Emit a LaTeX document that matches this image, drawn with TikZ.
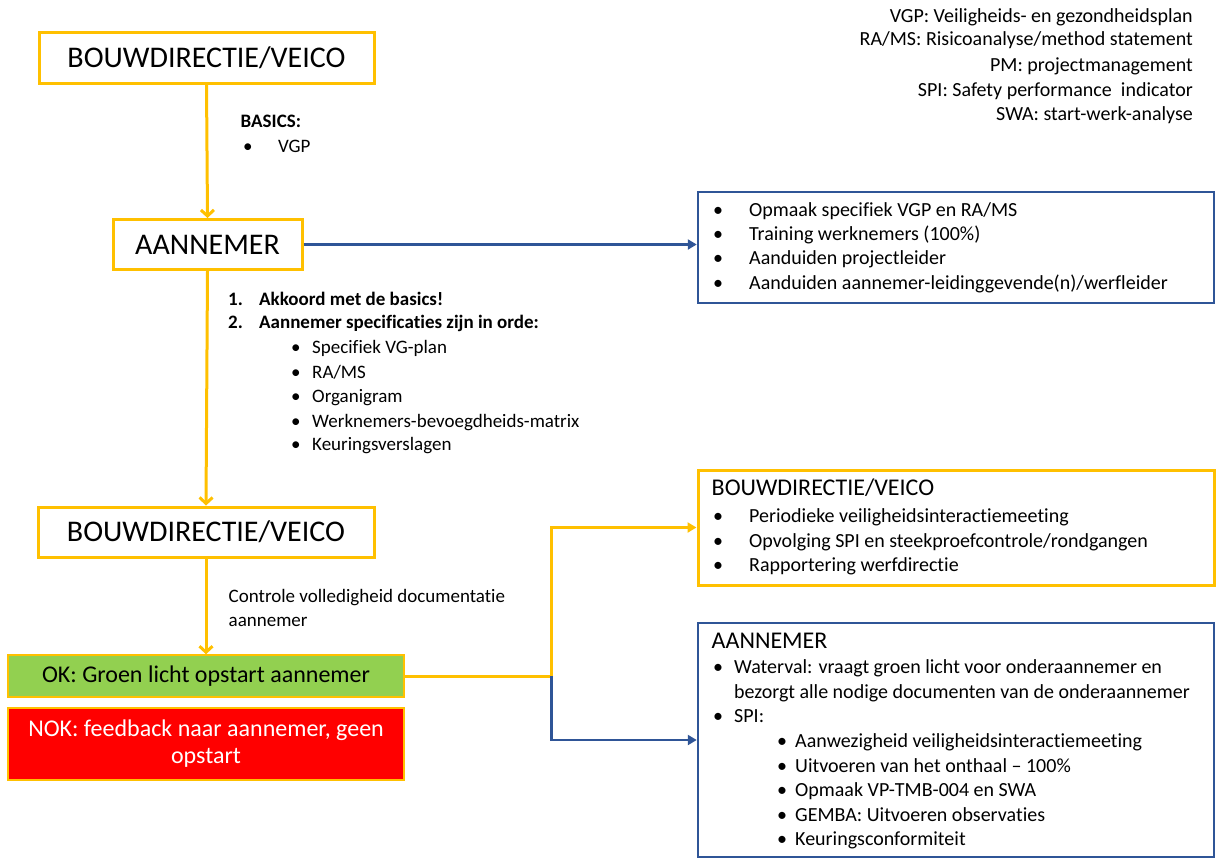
\documentclass[tikz,border=0pt]{standalone}
\usepackage{fontspec}
\setmainfont{Carlito}[Ligatures={NoCommon}]
\usetikzlibrary{arrows.meta}
\definecolor{ygold}{RGB}{255,192,0}
\definecolor{bblue}{RGB}{47,85,151}
\definecolor{okgreen}{RGB}{146,208,80}
\definecolor{nokred}{RGB}{255,0,0}
\newcommand\bul[2]{\makebox[#1][l]{\textbullet}#2}
\newcommand\fsbody{\fontsize{20}{24}\selectfont}
\tikzset{
  ybox/.style={draw=ygold, line width=3pt, minimum height=50pt, inner sep=0pt, font=\fontsize{30}{36}\selectfont},
  rbox/.style={line width=2.5pt, minimum width=516pt, inner sep=0pt},
  txt/.style={anchor=base west, inner sep=0pt, font=\fsbody},
  rtxt/.style={anchor=base east, inner sep=0pt, font=\fsbody},
  ttl/.style={anchor=base west, inner sep=0pt, font=\fontsize{24}{28}\selectfont},
  ydown/.style={draw=ygold, line width=3pt, -{Straight Barb[length=6pt,width=13pt]}},
  yright/.style={draw=ygold, line width=3pt, -{Triangle[length=9pt,width=10pt]}},
  bright/.style={draw=bblue, line width=2.5pt, -{Triangle[length=9pt,width=10pt]}}
}
\begin{document}
\begin{tikzpicture}[x=1pt,y=-1pt]
\useasboundingbox (0,0) rectangle (1217,859);
% left boxes
\node[ybox, minimum width=335pt] (b1) at (206.5,58) {BOUWDIRECTIE/VEICO};
\node[ybox, minimum width=189pt] (a1) at (207.5,244.5) {AANNEMER};
\node[ybox, minimum width=336pt] (b2) at (206,532) {BOUWDIRECTIE/VEICO};
\node[draw=ygold, line width=1.5pt, fill=okgreen, minimum width=396pt, minimum height=42pt, inner sep=0pt, font=\fontsize{24}{28}\selectfont] (ok) at (206,676) {OK: Groen licht opstart aannemer};
\node[draw=ygold, line width=2.5pt, fill=nokred, text=white, minimum width=396pt, minimum height=72pt, inner sep=0pt, align=center, font=\fontsize{24}{27}\selectfont] (nok) at (206,744) {NOK: feedback naar aannemer, geen\\opstart};
% right boxes
\node[rbox, draw=bblue, minimum height=111pt] (r1) at (956,247.5) {};
\node[rbox, draw=ygold, line width=3pt, minimum height=115pt] (r2) at (956,527.5) {};
\node[rbox, draw=bblue, minimum height=234pt] (r3) at (956,740) {};
% connectors
\draw[ydown] (b1.south) -- (a1.north);
\draw[ydown] (a1.south) -- (b2.north);
\draw[ydown] (b2.south) -- (ok.north);
\draw[bright] (a1.east) -- (a1.east -| r1.west);
\coordinate (j) at (551.5,676);
\draw[yright] (ok.east) -- (j) |- (r2.west);
\draw[bright] (j) |- (r3.west);
% legend
\node[rtxt] (lg1) at (1193,23) {VGP: Veiligheids- en gezondheidsplan};
\node[rtxt] (lg2) at (1193,46) {RA/MS: Risicoanalyse/method statement};
\node[rtxt] (lg3) at (1193,71) {PM: projectmanagement};
\node[rtxt] (lg4) at (1193,96) {SPI: Safety performance\ \ indicator};
\node[rtxt] (lg5) at (1193,120) {SWA: start-werk-analyse};
% basics
\node[txt, font=\fontsize{19}{23}\selectfont\bfseries] (bas) at (240.5,127) {BASICS:};
\node[txt, font=\fontsize{19}{23}\selectfont] (bas1) at (243,152) {\bul{35pt}{VGP}};
% conditions
\node[txt, font=\fontsize{19}{23}\selectfont\bfseries] (c1) at (228,305) {\makebox[31pt][l]{1.}Akkoord met de basics!};
\node[txt, font=\fontsize{19}{23}\selectfont\bfseries] (c2) at (228,328) {\makebox[31pt][l]{2.}Aannemer specificaties zijn in orde:};
\node[txt, font=\fontsize{19}{23}\selectfont] (c21) at (291,353) {\bul{21pt}{Specifiek VG-plan}};
\node[txt, font=\fontsize{19}{23}\selectfont] (c22) at (291,378) {\bul{21pt}{RA/MS}};
\node[txt, font=\fontsize{19}{23}\selectfont] (c23) at (291,402) {\bul{21pt}{Organigram}};
\node[txt, font=\fontsize{19}{23}\selectfont] (c24) at (291,427) {\bul{21pt}{Werknemers-bevoegdheids-matrix}};
\node[txt, font=\fontsize{19}{23}\selectfont] (c25) at (291,450) {\bul{21pt}{Keuringsverslagen}};
% control
\node[txt, font=\fontsize{19}{23}\selectfont] (ct1) at (228.5,602) {Controle volledigheid documentatie};
\node[txt, font=\fontsize{19}{23}\selectfont] (ct2) at (228.5,626) {aannemer};
% right box 1
\node[txt] (r1a) at (713,216) {\bul{36pt}{Opmaak specifiek VGP en RA/MS}};
\node[txt] (r1b) at (713,240) {\bul{36pt}{Training werknemers (100\%)}};
\node[txt] (r1c) at (713,264) {\bul{36pt}{Aanduiden projectleider}};
\node[txt] (r1d) at (713,289) {\bul{36pt}{Aanduiden aannemer-leidinggevende(n)/werfleider}};
% right box 2
\node[ttl] (r2t) at (711.5,495) {BOUWDIRECTIE/VEICO};
\node[txt] (r2a) at (713,522) {\bul{36pt}{Periodieke veiligheidsinteractiemeeting}};
\node[txt] (r2b) at (713,547) {\bul{36pt}{Opvolging SPI en steekproefcontrole/rondgangen}};
\node[txt] (r2c) at (713,571) {\bul{36pt}{Rapportering werfdirectie}};
% right box 3
\node[ttl] (r3t) at (711.5,648) {AANNEMER};
\node[txt] (r3a) at (713,673) {\bul{21pt}{Waterval: vraagt groen licht voor onderaannemer en}};
\node[txt] (r3a2) at (734,698) {bezorgt alle nodige documenten van de onderaannemer};
\node[txt] (r3b) at (713,722) {\bul{21pt}{SPI:}};
\node[txt] (r3b1) at (777,747) {\bul{18pt}{Aanwezigheid veiligheidsinteractiemeeting}};
\node[txt] (r3b2) at (777,772) {\bul{18pt}{Uitvoeren van het onthaal -- 100\%}};
\node[txt] (r3b3) at (777,796) {\bul{18pt}{Opmaak VP-TMB-004 en SWA}};
\node[txt] (r3b4) at (777,821) {\bul{18pt}{GEMBA: Uitvoeren observaties}};
\node[txt] (r3b5) at (777,845) {\bul{18pt}{Keuringsconformiteit}};
\end{tikzpicture}
\end{document}
